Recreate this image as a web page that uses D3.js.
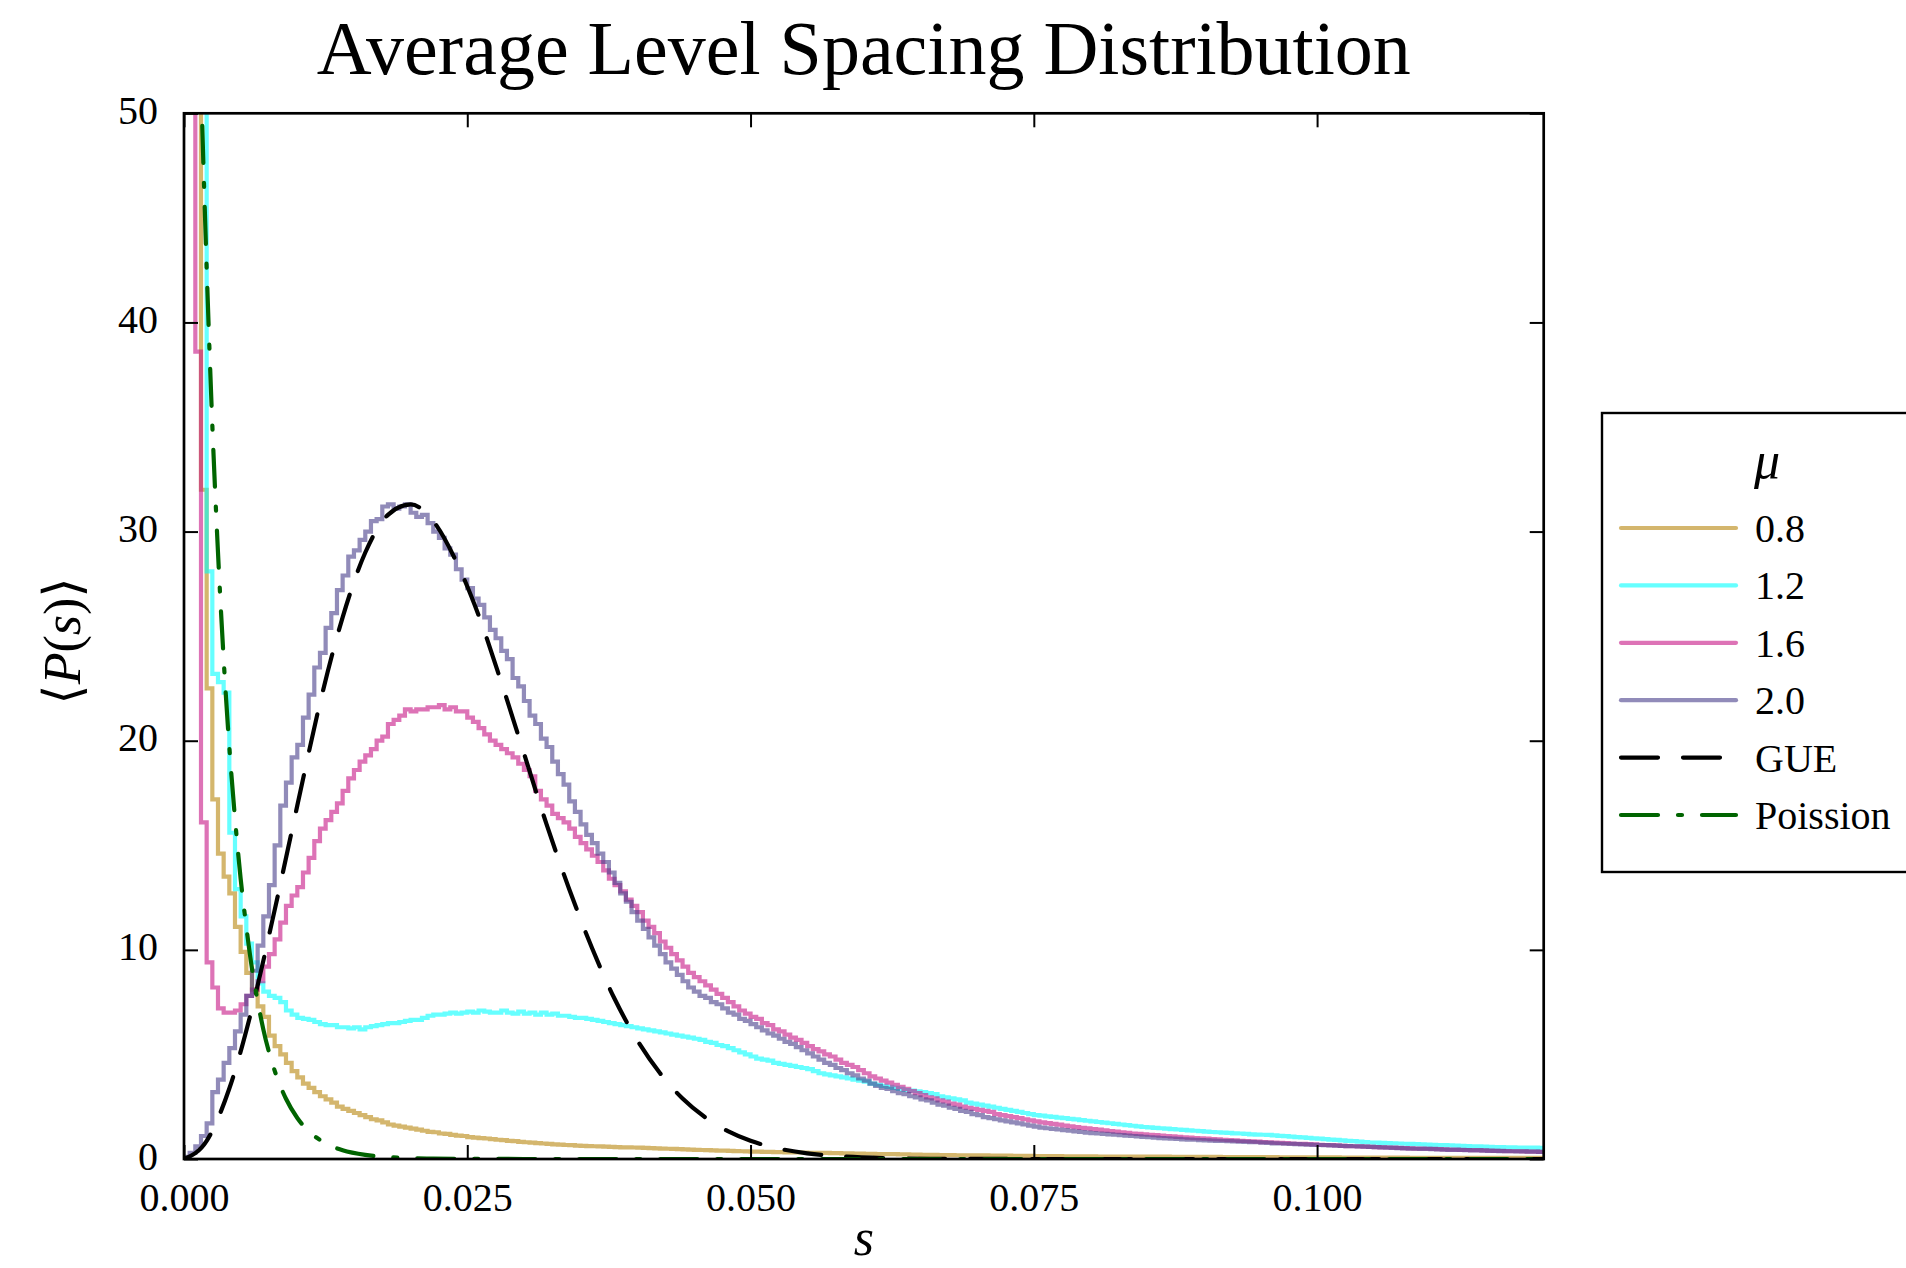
<!DOCTYPE html>
<html>
<head>
<meta charset="utf-8">
<script src="https://cdn.jsdelivr.net/npm/d3@7"></script>
<style>
  html, body { margin: 0; padding: 0; background: #fff; }
  svg { display: block; }
  text { font-family: "Liberation Serif", "DejaVu Serif", serif; fill: #000; }
</style>
</head>
<body>
<svg id="chart" width="1906" height="1268"></svg>
<script>
// Histogram bin width (in s) shared by all μ series
const binWidth = 0.0005;

const xTicks = [0, 0.025, 0.05, 0.075, 0.1];
const yTicks = [0, 10, 20, 30, 40, 50];

const legendTitle = "μ";
const seriesNames = ["0.8", "1.2", "1.6", "2.0"];

// ⟨P(s)⟩ per bin, μ = 0.8
const mu08 = [
  120, 95, 70, 32, 22.5, 17.2, 14.6, 13.5, 12.7, 11.1,
  9.9, 8.9, 8.1, 7.3, 6.8, 5.9, 5.4, 5.0, 4.6, 4.2,
  3.9, 3.6, 3.4, 3.2, 3.0, 2.85, 2.7, 2.5, 2.4, 2.3,
  2.2, 2.1, 2.0, 1.9, 1.85, 1.75, 1.65, 1.6, 1.55, 1.5,
  1.45, 1.4, 1.35, 1.3, 1.28, 1.22, 1.2, 1.15, 1.12, 1.1,
  1.05, 1.02, 1.0, 0.98, 0.95, 0.92, 0.9, 0.87, 0.85, 0.82,
  0.8, 0.78, 0.76, 0.74, 0.72, 0.7, 0.69, 0.67, 0.66, 0.64,
  0.63, 0.62, 0.61, 0.6, 0.59, 0.58, 0.57, 0.56, 0.56, 0.55,
  0.54, 0.53, 0.52, 0.51, 0.5, 0.49, 0.48, 0.47, 0.46, 0.45,
  0.44, 0.43, 0.42, 0.41, 0.4, 0.4, 0.39, 0.38, 0.37, 0.36,
  0.35, 0.35, 0.34, 0.34, 0.33, 0.33, 0.32, 0.32, 0.31, 0.31,
  0.3, 0.3, 0.29, 0.29, 0.28, 0.28, 0.27, 0.27, 0.26, 0.26,
  0.25, 0.25, 0.24, 0.24, 0.23, 0.23, 0.22, 0.22, 0.21, 0.21,
  0.2, 0.2, 0.2, 0.19, 0.19, 0.19, 0.18, 0.18, 0.18, 0.17,
  0.17, 0.17, 0.16, 0.16, 0.16, 0.16, 0.15, 0.15, 0.15, 0.15,
  0.14, 0.14, 0.14, 0.14, 0.14, 0.13, 0.13, 0.13, 0.13, 0.13,
  0.13, 0.12, 0.12, 0.12, 0.12, 0.12, 0.12, 0.11, 0.11, 0.11,
  0.11, 0.11, 0.11, 0.11, 0.1, 0.1, 0.1, 0.1, 0.1, 0.1,
  0.1, 0.1, 0.1, 0.09, 0.09, 0.09, 0.09, 0.09, 0.09, 0.09,
  0.09, 0.09, 0.09, 0.08, 0.08, 0.08, 0.08, 0.08, 0.08, 0.08,
  0.08, 0.08, 0.08, 0.08, 0.07, 0.07, 0.07, 0.07, 0.07, 0.07,
  0.07, 0.07, 0.07, 0.07, 0.07, 0.07, 0.06, 0.06, 0.06, 0.06,
  0.06, 0.06, 0.06, 0.06, 0.06, 0.06, 0.06, 0.06, 0.06, 0.05,
  0.05, 0.05, 0.05, 0.05, 0.05, 0.05, 0.05, 0.05, 0.05, 0.05
];

// ⟨P(s)⟩ per bin, μ = 1.2
const mu12 = [
  200, 150, 100, 70, 28.1, 23.2, 22.8, 22.3, 15.6, 12.9,
  11.6, 10.3, 9.4, 8.4, 8.0, 7.8, 7.7, 7.5, 7.1, 6.9,
  6.75, 6.7, 6.65, 6.55, 6.45, 6.4, 6.4, 6.3, 6.3, 6.25,
  6.3, 6.2, 6.3, 6.35, 6.4, 6.45, 6.5, 6.5, 6.55, 6.6,
  6.65, 6.65, 6.75, 6.85, 6.9, 6.9, 6.95, 7.0, 6.95, 7.0,
  7.05, 7.0, 7.1, 7.05, 7.0, 7.0, 7.1, 7.0, 6.95, 7.05,
  6.95, 7.0, 6.9, 7.0, 6.9, 6.95, 6.85, 6.85, 6.8, 6.75,
  6.75, 6.7, 6.65, 6.6, 6.55, 6.5, 6.45, 6.4, 6.35, 6.3,
  6.25, 6.2, 6.15, 6.1, 6.05, 6.0, 5.95, 5.9, 5.85, 5.8,
  5.75, 5.7, 5.6, 5.55, 5.45, 5.4, 5.3, 5.2, 5.1, 5.0,
  4.9, 4.8, 4.75, 4.7, 4.6, 4.55, 4.5, 4.45, 4.4, 4.35,
  4.3, 4.2, 4.1, 4.05, 4.0, 3.95, 3.9, 3.85, 3.8, 3.75,
  3.7, 3.6, 3.55, 3.5, 3.45, 3.4, 3.35, 3.3, 3.27, 3.24,
  3.2, 3.15, 3.1, 3.0, 2.95, 2.9, 2.85, 2.8, 2.7, 2.65,
  2.6, 2.55, 2.5, 2.45, 2.4, 2.35, 2.3, 2.25, 2.2, 2.15,
  2.1, 2.07, 2.04, 2.01, 1.98, 1.95, 1.92, 1.89, 1.86, 1.83,
  1.8, 1.77, 1.74, 1.71, 1.68, 1.65, 1.62, 1.59, 1.56, 1.53,
  1.51, 1.49, 1.47, 1.45, 1.43, 1.41, 1.39, 1.37, 1.35, 1.33,
  1.31, 1.29, 1.28, 1.26, 1.25, 1.23, 1.22, 1.2, 1.18, 1.17,
  1.16, 1.15, 1.13, 1.11, 1.09, 1.07, 1.05, 1.03, 1.01, 0.99,
  0.97, 0.95, 0.93, 0.91, 0.89, 0.87, 0.85, 0.83, 0.81, 0.79,
  0.78, 0.77, 0.76, 0.75, 0.74, 0.73, 0.72, 0.71, 0.7, 0.69,
  0.68, 0.67, 0.66, 0.65, 0.64, 0.63, 0.62, 0.61, 0.6, 0.59,
  0.58, 0.57, 0.57, 0.56, 0.56, 0.55, 0.55, 0.54, 0.54, 0.53
];

// ⟨P(s)⟩ per bin, μ = 1.6
const mu16 = [
  200, 120, 38.6, 16.1, 9.4, 8.2, 7.2, 7.0, 7.0, 7.1,
  7.4, 7.8, 8.1, 8.5, 9.2, 9.8, 10.5, 11.3, 12.1, 12.6,
  13.0, 13.7, 14.4, 15.2, 15.8, 16.2, 16.6, 17.0, 17.6, 18.2,
  18.6, 19.0, 19.3, 19.6, 20.0, 20.2, 20.8, 21.0, 21.2, 21.5,
  21.4, 21.5, 21.5, 21.6, 21.6, 21.7, 21.5, 21.6, 21.4, 21.4,
  21.1, 20.9, 20.6, 20.3, 20.0, 19.8, 19.6, 19.4, 19.2, 18.9,
  18.6, 18.3, 17.6, 17.2, 16.9, 16.5, 16.3, 16.1, 15.8, 15.4,
  15.1, 14.8, 14.5, 14.2, 13.8, 13.4, 13.1, 12.8, 12.4, 12.1,
  11.8, 11.4, 11.1, 10.8, 10.4, 10.1, 9.8, 9.5, 9.2, 8.9,
  8.7, 8.5, 8.3, 8.1, 7.9, 7.7, 7.5, 7.3, 7.1, 6.95,
  6.8, 6.7, 6.5, 6.4, 6.2, 6.1, 5.95, 5.8, 5.7, 5.55,
  5.4, 5.25, 5.15, 5.0, 4.9, 4.75, 4.6, 4.5, 4.4, 4.25,
  4.1, 3.95, 3.85, 3.75, 3.65, 3.55, 3.45, 3.35, 3.25, 3.15,
  3.05, 2.95, 2.9, 2.8, 2.75, 2.65, 2.6, 2.5, 2.45, 2.4,
  2.35, 2.3, 2.25, 2.15, 2.1, 2.05, 2.0, 1.95, 1.9, 1.85,
  1.8, 1.75, 1.72, 1.68, 1.64, 1.6, 1.56, 1.52, 1.49, 1.46,
  1.43, 1.4, 1.37, 1.34, 1.31, 1.28, 1.25, 1.22, 1.2, 1.18,
  1.16, 1.14, 1.12, 1.1, 1.08, 1.06, 1.04, 1.02, 1.0, 0.99,
  0.97, 0.95, 0.94, 0.92, 0.9, 0.89, 0.87, 0.86, 0.84, 0.83,
  0.81, 0.8, 0.78, 0.77, 0.76, 0.74, 0.73, 0.72, 0.71, 0.7,
  0.68, 0.67, 0.66, 0.65, 0.63, 0.62, 0.61, 0.6, 0.59, 0.58,
  0.57, 0.56, 0.55, 0.54, 0.53, 0.52, 0.51, 0.5, 0.5, 0.49,
  0.48, 0.47, 0.46, 0.45, 0.45, 0.44, 0.43, 0.42, 0.42, 0.41,
  0.4, 0.39, 0.39, 0.38, 0.37, 0.37, 0.36, 0.35, 0.35, 0.34
];

// ⟨P(s)⟩ per bin, μ = 2.0
const mu20 = [
  0.1, 0.3, 0.6, 1.1, 1.7, 3.2, 3.8, 4.6, 5.3, 6.1,
  6.9, 7.8, 9.0, 10.2, 11.6, 13.1, 15.0, 16.9, 18.0, 19.2,
  19.8, 21.1, 22.2, 23.5, 24.2, 25.4, 26.1, 27.2, 27.9, 28.8,
  29.1, 29.6, 30.0, 30.5, 30.6, 31.2, 31.3, 31.1, 31.2, 31.3,
  30.9, 30.7, 30.8, 30.4, 30.0, 29.7, 29.2, 28.9, 28.2, 27.7,
  27.3, 26.8, 26.5, 25.9, 25.3, 24.9, 24.3, 23.9, 23.0, 22.6,
  21.9, 21.2, 20.8, 20.1, 19.7, 19.0, 18.4, 17.9, 17.1, 16.6,
  16.0, 15.5, 15.1, 14.6, 14.2, 13.7, 13.2, 12.7, 12.3, 11.8,
  11.4, 11.0, 10.6, 10.2, 9.8, 9.4, 9.1, 8.8, 8.5, 8.2,
  8.0, 7.8, 7.7, 7.5, 7.4, 7.2, 7.0, 6.9, 6.7, 6.6,
  6.45, 6.3, 6.15, 6.0, 5.9, 5.75, 5.6, 5.5, 5.35, 5.2,
  5.05, 4.9, 4.75, 4.6, 4.5, 4.35, 4.25, 4.1, 4.0, 3.85,
  3.75, 3.6, 3.5, 3.4, 3.35, 3.25, 3.15, 3.1, 3.0, 2.95,
  2.85, 2.8, 2.7, 2.6, 2.55, 2.45, 2.4, 2.3, 2.25, 2.15,
  2.1, 2.0, 1.95, 1.9, 1.85, 1.8, 1.75, 1.7, 1.65, 1.6,
  1.55, 1.5, 1.47, 1.44, 1.41, 1.38, 1.35, 1.32, 1.29, 1.26,
  1.24, 1.22, 1.2, 1.18, 1.16, 1.14, 1.12, 1.1, 1.08, 1.06,
  1.04, 1.02, 1.0, 0.99, 0.97, 0.96, 0.94, 0.93, 0.92, 0.9,
  0.89, 0.88, 0.87, 0.86, 0.85, 0.84, 0.83, 0.82, 0.81, 0.8,
  0.78, 0.77, 0.75, 0.74, 0.73, 0.72, 0.71, 0.7, 0.69, 0.68,
  0.67, 0.66, 0.65, 0.64, 0.63, 0.62, 0.61, 0.6, 0.59, 0.58,
  0.57, 0.56, 0.54, 0.53, 0.52, 0.51, 0.5, 0.49, 0.48, 0.48,
  0.47, 0.46, 0.45, 0.44, 0.44, 0.43, 0.42, 0.41, 0.41, 0.4,
  0.39, 0.39, 0.38, 0.37, 0.37, 0.36, 0.36, 0.35, 0.35, 0.34
];

// GUE reference curve, sampled (s, P)
const gueS = [0, 0.002, 0.004, 0.006, 0.008, 0.010, 0.012, 0.014, 0.016, 0.018,
              0.020, 0.022, 0.024, 0.026, 0.028, 0.030, 0.032, 0.034, 0.036, 0.038,
              0.040, 0.042, 0.044, 0.046, 0.048, 0.050, 0.052, 0.055, 0.058, 0.062,
              0.066, 0.070, 0.080, 0.100, 0.120];
const gueP = [0, 0.87, 3.37, 7.19, 11.9, 16.9, 21.8, 25.9, 29.0, 30.8,
              31.3, 30.5, 28.6, 26.0, 22.8, 19.4, 16.0, 12.9, 10.1, 7.66,
              5.68, 4.11, 2.89, 1.99, 1.33, 0.87, 0.56, 0.27, 0.127, 0.042,
              0.011, 0.003, 0, 0, 0];

// Poisson reference curve, sampled (s, P)
const poiS = [0, 0.0005, 0.001, 0.0015, 0.002, 0.0025, 0.003, 0.0035, 0.004, 0.0045,
              0.005, 0.0055, 0.006, 0.0065, 0.007, 0.008, 0.009, 0.010, 0.011, 0.012,
              0.013, 0.014, 0.016, 0.018, 0.020, 0.022, 0.025, 0.030, 0.040, 0.060,
              0.080, 0.100, 0.120];
const poiP = [92, 75.9, 62.6, 51.6, 42.6, 35.1, 29.0, 23.9, 19.7, 16.3,
              13.4, 11.1, 9.1, 7.55, 6.2, 4.23, 2.88, 1.96, 1.33, 0.91,
              0.62, 0.42, 0.195, 0.09, 0.042, 0.02, 0.006, 0.001, 0, 0,
              0, 0, 0];

const histColors = ["darkgoldenrod", "cyan", "mediumvioletred", "darkslateblue"];
const histOpacity = 0.6;

const fontStack = "'Liberation Serif', 'DejaVu Serif', serif";
const lineW = 4.2;

const svg = d3.select("#chart");

const plot = { left: 184, right: 1543.7, top: 113.3, bottom: 1159 };

const x = d3.scaleLinear().domain([0, 0.12]).range([plot.left, plot.right]);
const y = d3.scaleLinear().domain([0, 50]).range([plot.bottom, plot.top]);

svg.append("defs").append("clipPath").attr("id", "plotClip")
  .append("rect")
  .attr("x", plot.left).attr("y", plot.top)
  .attr("width", plot.right - plot.left).attr("height", plot.bottom - plot.top);

// Title
svg.append("text")
  .attr("x", (plot.left + plot.right) / 2)
  .attr("y", 74)
  .attr("text-anchor", "middle")
  .style("font-size", "76px")
  .text("Average Level Spacing Distribution");

// Data layer
const layer = svg.append("g").attr("clip-path", "url(#plotClip)");

const stepLine = d3.line()
  .x(d => x(d[0]))
  .y(d => y(d[1]))
  .curve(d3.curveStepAfter);

[mu08, mu12, mu16, mu20].forEach((vals, k) => {
  const pts = vals.map((v, i) => [i * binWidth, v]);
  pts.push([vals.length * binWidth, vals[vals.length - 1]]);
  layer.append("path")
    .attr("d", stepLine(pts))
    .attr("fill", "none")
    .attr("stroke", histColors[k])
    .attr("stroke-opacity", histOpacity)
    .attr("stroke-width", lineW)
    .attr("stroke-linejoin", "miter");
});

const smoothLine = d3.line()
  .x(d => x(d[0]))
  .y(d => y(d[1]))
  .curve(d3.curveMonotoneX);

layer.append("path")
  .attr("d", smoothLine(gueS.map((s, i) => [s, gueP[i]])))
  .attr("fill", "none")
  .attr("stroke", "#000")
  .attr("stroke-width", lineW)
  .attr("stroke-linecap", "round")
  .attr("stroke-dasharray", "37 25");

layer.append("path")
  .attr("d", smoothLine(poiS.map((s, i) => [s, poiP[i]])))
  .attr("fill", "none")
  .attr("stroke", "darkgreen")
  .attr("stroke-width", lineW)
  .attr("stroke-linecap", "round")
  .attr("stroke-dasharray", "37 20 4 20");

// Axes: ticks point inward on all four sides
const tickLen = 14;
const styleAxis = g => {
  g.select(".domain").remove();
  g.selectAll(".tick line").attr("stroke", "#000").attr("stroke-width", 2);
  g.selectAll(".tick text")
    .style("font-family", fontStack)
    .style("font-size", "40px")
    .attr("fill", "#000");
};

svg.append("g")
  .attr("transform", `translate(0,${plot.bottom})`)
  .call(d3.axisBottom(x).tickValues(xTicks).tickSizeInner(-tickLen).tickSizeOuter(0)
        .tickPadding(24).tickFormat(d3.format(".3f")))
  .call(styleAxis);

svg.append("g")
  .attr("transform", `translate(0,${plot.top})`)
  .call(d3.axisTop(x).tickValues(xTicks).tickSizeInner(-tickLen).tickSizeOuter(0)
        .tickFormat(""))
  .call(styleAxis);

svg.append("g")
  .attr("transform", `translate(${plot.left},0)`)
  .call(d3.axisLeft(y).tickValues(yTicks).tickSizeInner(-tickLen).tickSizeOuter(0)
        .tickPadding(26).tickFormat(d3.format("d")))
  .call(styleAxis)
  .call(g => g.selectAll(".tick text").attr("dy", "0.25em"));

svg.append("g")
  .attr("transform", `translate(${plot.right},0)`)
  .call(d3.axisRight(y).tickValues(yTicks).tickSizeInner(-tickLen).tickSizeOuter(0)
        .tickFormat(""))
  .call(styleAxis);

// Frame
svg.append("rect")
  .attr("x", plot.left).attr("y", plot.top)
  .attr("width", plot.right - plot.left).attr("height", plot.bottom - plot.top)
  .attr("fill", "none").attr("stroke", "#000").attr("stroke-width", 2.7);

// Axis labels
svg.append("text")
  .attr("x", (plot.left + plot.right) / 2)
  .attr("y", 1255)
  .attr("text-anchor", "middle")
  .style("font-size", "52px")
  .style("font-style", "italic")
  .text("s");

const yLab = svg.append("text")
  .attr("transform", "translate(80,641) rotate(-90)")
  .attr("text-anchor", "middle")
  .style("font-size", "52px");
yLab.append("tspan").text("⟨");
yLab.append("tspan").style("font-style", "italic").text("P");
yLab.append("tspan").text("(");
yLab.append("tspan").style("font-style", "italic").text("s");
yLab.append("tspan").text(")");
yLab.append("tspan").text("⟩");

// Legend
const legend = svg.append("g");
legend.append("rect")
  .attr("x", 1602).attr("y", 413)
  .attr("width", 400).attr("height", 459)
  .attr("fill", "#fff").attr("stroke", "#000").attr("stroke-width", 2.4);

legend.append("text")
  .attr("x", 1767).attr("y", 478)
  .attr("text-anchor", "middle")
  .style("font-size", "52px")
  .style("font-style", "italic")
  .text(legendTitle);

const legendItems = [
  { label: seriesNames[0], color: histColors[0], opacity: histOpacity, dash: null },
  { label: seriesNames[1], color: histColors[1], opacity: histOpacity, dash: null },
  { label: seriesNames[2], color: histColors[2], opacity: histOpacity, dash: null },
  { label: seriesNames[3], color: histColors[3], opacity: histOpacity, dash: null },
  { label: "GUE", color: "#000", opacity: 1, dash: "37 25" },
  { label: "Poission", color: "darkgreen", opacity: 1, dash: "37 20 4 20" }
];
const rowY = d3.scalePoint().domain(d3.range(legendItems.length)).range([528, 815]);

legendItems.forEach((it, i) => {
  const yy = rowY(i);
  legend.append("line")
    .attr("x1", 1621).attr("x2", 1736)
    .attr("y1", yy).attr("y2", yy)
    .attr("stroke", it.color)
    .attr("stroke-opacity", it.opacity)
    .attr("stroke-width", 4.2)
    .attr("stroke-linecap", "round")
    .attr("stroke-dasharray", it.dash);
  legend.append("text")
    .attr("x", 1755).attr("y", yy + 14)
    .style("font-size", "40px")
    .text(it.label);
});
</script>
</body>
</html>
